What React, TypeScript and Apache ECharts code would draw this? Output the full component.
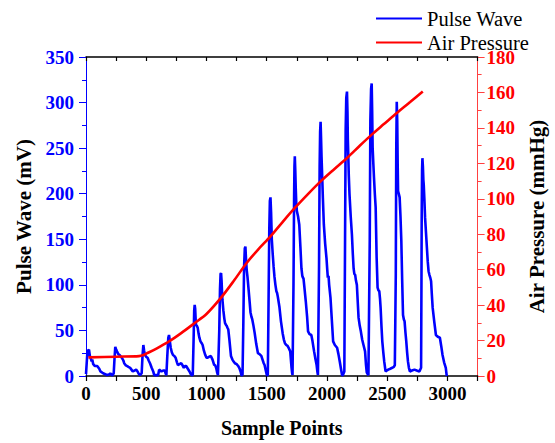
import React, { useEffect, useRef } from "react";
import * as echarts from "echarts";

// ---- Data ----
const pulseSamples = [
  0, 11, 18, 25, 32, 38, 47, 52, 60, 66, 74, 93, 110, 120, 142, 160, 175, 197, 202, 215, 221,
  230, 237, 243, 250, 257, 268, 279, 290, 298, 310, 317, 328, 339, 352, 366, 377, 388, 402, 416, 428, 435, 449,
  462, 469, 476, 482, 489, 500, 511, 520, 531, 545, 558, 566, 572, 599, 607, 626, 640, 654, 660, 667,
  674, 683, 689, 696, 703, 712, 722, 733, 744, 755, 763, 776, 790, 800, 812, 822, 831, 845, 859, 870, 880,
  886, 893, 898, 902, 906, 910, 913, 920, 927, 935, 941, 950, 960, 968, 978, 990, 1000, 1009, 1020, 1036, 1050, 1064, 1072, 1082, 1088, 1095,
  1099, 1106, 1112, 1117, 1121, 1125, 1128, 1132, 1140, 1148, 1154, 1162, 1168, 1174, 1181, 1190, 1203, 1215, 1225, 1236, 1250, 1263, 1275, 1283, 1290,
  1299, 1306, 1312, 1318, 1323, 1328, 1334, 1340, 1350, 1359, 1365, 1373, 1380, 1390, 1400, 1413, 1427, 1440, 1455, 1465, 1475, 1482, 1492, 1501,
  1509, 1515, 1521, 1526, 1531, 1536, 1539, 1542, 1550, 1557, 1564, 1572, 1580, 1586, 1592, 1605, 1618, 1632, 1642, 1651, 1662, 1673, 1685, 1695, 1706, 1711, 1714,
  1718, 1722, 1727, 1730, 1733, 1737, 1741, 1745, 1750, 1760, 1770, 1780, 1788, 1795, 1800, 1805, 1812, 1824, 1835, 1843, 1855, 1870, 1880, 1893, 1905, 1914, 1920, 1925,
  1929, 1934, 1939, 1943, 1947, 1951, 1955, 1958, 1966, 1974, 1985, 1996, 2002, 2007, 2013, 2018, 2029, 2040, 2051, 2065, 2084, 2095, 2106, 2116, 2125,
  2132, 2138, 2144, 2150, 2155, 2160, 2166, 2170, 2173, 2176, 2181, 2187, 2197, 2207, 2214, 2221, 2227, 2234, 2240, 2248, 2255, 2262, 2272, 2281, 2292, 2303, 2316, 2324, 2330, 2338,
  2344, 2349, 2355, 2360, 2366, 2371, 2375, 2379, 2385, 2390, 2397, 2404, 2412, 2420, 2427, 2434, 2440, 2445, 2452, 2459, 2468, 2475, 2486, 2497, 2508, 2525, 2541, 2555, 2563,
  2567, 2571, 2575, 2579, 2583, 2587, 2590, 2596, 2603, 2610, 2617, 2624, 2631, 2638, 2644, 2651, 2658, 2665, 2672, 2680, 2688, 2705, 2726, 2745, 2767, 2781,
  2784, 2786, 2789, 2792, 2796, 2800, 2803, 2808, 2814, 2825, 2836, 2843, 2850, 2857, 2864, 2870, 2877, 2890, 2904, 2920, 2937, 2948, 2959, 2972, 2986, 2994,
];
const pulseMv = [
  2, 25, 28, 29, 22, 20, 16, 18, 13, 12, 11, 11, 8, 5, 3, 2, 1, 2, 3, 1, 1,
  3, 20, 32, 29, 27, 24, 23, 21, 20, 17, 14, 12, 11, 10, 9, 7, 5, 6, 7, 5, 3, 1,
  3, 22, 34, 28, 23, 21, 20, 17, 14, 9, 5, 1, 1, 1, 7, 5, 6, 6, 3, 1,
  20, 42, 45, 38, 31, 26, 23, 22, 20, 15, 12, 13, 14, 12, 9, 11, 11, 8, 5, 2, 1,
  1, 40, 72, 78, 74, 62, 56, 55, 53, 46, 42, 38, 36, 34, 28, 23, 20, 20, 21, 22, 18, 12, 12, 8, 4, 1,
  1, 50, 95, 112, 113, 105, 95, 84, 72, 63, 58, 56, 55, 53, 51, 40, 22, 18, 16, 14, 13, 11, 8, 5, 1,
  1, 60, 120, 140, 142, 128, 116, 109, 94, 80, 70, 65, 62, 55, 47, 35, 25, 24, 22, 18, 14, 12, 6, 1,
  1, 80, 160, 192, 196, 180, 165, 150, 133, 120, 109, 100, 93, 91, 87, 76, 60, 47, 40, 36, 34, 33, 30, 27, 9, 3, 1,
  1, 100, 195, 230, 241, 225, 205, 190, 181, 175, 166, 140, 118, 110, 108, 107, 98, 82, 65, 49, 46, 45, 38, 27, 18, 12, 5, 1,
  1, 120, 230, 268, 279, 260, 240, 228, 195, 166, 145, 129, 117, 108, 110, 100, 86, 62, 38, 34, 31, 24, 16, 8, 1,
  1, 3, 5, 150, 270, 305, 312, 290, 260, 246, 220, 199, 175, 155, 135, 118, 112, 111, 105, 100, 82, 64, 55, 49, 40, 34, 27, 12, 4, 2,
  1, 1, 150, 280, 315, 321, 290, 250, 232, 218, 200, 185, 130, 97, 94, 93, 85, 75, 55, 38, 25, 16, 5, 6, 7, 8, 9, 10, 12,
  60, 111, 250, 301, 280, 230, 203, 200, 196, 175, 148, 105, 67, 62, 60, 48, 38, 26, 16, 9, 5, 6, 7, 6, 5, 9,
  100, 174, 225, 239, 230, 215, 210, 195, 174, 150, 126, 115, 111, 108, 104, 90, 75, 60, 45, 43, 42, 33, 23, 15, 9, 0,
];

const pressureSamples = [
  20, 250, 440, 476, 500, 585, 689, 790, 902, 1000, 1121, 1230, 1330, 1430, 1531, 1633, 1733, 1840, 1947,
  2060, 2166, 2270, 2371, 2475, 2579, 2690, 2795,
];
const pressureMmHg = [
  10.5, 10.9, 11.2, 11.8, 12.6, 15.5, 19.5, 24.2, 29.9, 35.0, 44.2, 54, 63.5, 71.5, 78.8, 87, 94.8, 102.5, 109.8,
  116.7, 123, 129.8, 136.2, 142.3, 148.4, 154.6, 160.6,
];

const seriesNames = ["Pulse Wave", "Air Pressure"];
const xAxisTitle = "Sample Points";
const leftAxisTitle = "Pulse Wave (mV)";
const rightAxisTitle = "Air Pressure (mmHg)";

const FONT = "'Liberation Serif', 'Times New Roman', serif";
const BLUE = "#0000ff";
const RED = "#ff0000";

export default function App() {
  const ref = useRef<HTMLDivElement>(null);

  useEffect(() => {
    if (!ref.current) return;
    const chart = echarts.init(ref.current, undefined, { renderer: "svg" });

    const pulseData = pulseSamples.map((x, i) => [x, pulseMv[i]]);
    const pressureData = pressureSamples.map((x, i) => [x, pressureMmHg[i]]);

    chart.setOption({
      animation: false,
      backgroundColor: "#ffffff",
      textStyle: { fontFamily: FONT },
      grid: { left: 86, right: 73, top: 57, bottom: 67, containLabel: false },
      legend: {
        data: seriesNames,
        orient: "vertical",
        left: 375,
        top: 8,
        padding: 0,
        itemWidth: 46,
        itemHeight: 12,
        itemGap: 3,
        itemStyle: { opacity: 0 },
        textStyle: { fontFamily: FONT, fontSize: 20.5, color: "#000", fontWeight: "normal" },
      },
      xAxis: [
        {
          type: "value",
          position: "bottom",
          min: 0,
          max: 3250,
          interval: 250,
          name: xAxisTitle,
          nameLocation: "middle",
          nameGap: 42,
          nameTextStyle: { fontFamily: FONT, fontSize: 20, fontWeight: "bold", color: "#000" },
          axisLine: { onZero: false, lineStyle: { color: "#000", width: 1.5 } },
          axisTick: { show: true, inside: false, length: 5, lineStyle: { color: "#000", width: 1.2 } },
          axisLabel: {
            margin: 8,
            fontFamily: FONT,
            fontSize: 19,
            fontWeight: "bold",
            color: "#000",
            formatter: (v: number) => (v % 500 === 0 && v <= 3000 ? String(v) : ""),
          },
          splitLine: { show: false },
        },
        {
          type: "value",
          position: "top",
          min: 0,
          max: 3250,
          interval: 250,
          axisLine: { onZero: false, lineStyle: { color: "#000", width: 1.5 } },
          axisTick: { show: true, inside: true, length: 4, lineStyle: { color: "#000", width: 1.2 } },
          axisLabel: { show: false },
          splitLine: { show: false },
        },
      ],
      yAxis: [
        {
          type: "value",
          position: "left",
          min: 0,
          max: 350,
          interval: 50,
          name: leftAxisTitle,
          nameLocation: "middle",
          nameGap: 47,
          nameTextStyle: { fontFamily: FONT, fontSize: 21, fontWeight: "bold", color: "#000" },
          axisLine: { show: true, onZero: false, lineStyle: { color: BLUE, width: 1 } },
          axisTick: { show: true, length: 7, lineStyle: { color: BLUE, width: 1 } },
          minorTick: { show: true, splitNumber: 2, length: 4, lineStyle: { color: BLUE, width: 1 } },
          axisLabel: { margin: 12, fontFamily: FONT, fontSize: 19, fontWeight: "bold", color: BLUE },
          splitLine: { show: false },
          minorSplitLine: { show: false },
        },
        {
          type: "value",
          position: "right",
          min: 0,
          max: 180,
          interval: 20,
          name: rightAxisTitle,
          nameLocation: "middle",
          nameGap: 47,
          nameTextStyle: { fontFamily: FONT, fontSize: 21, fontWeight: "bold", color: "#000" },
          axisLine: { show: true, onZero: false, lineStyle: { color: "#ff4040", width: 1 } },
          axisTick: { show: true, length: 7, lineStyle: { color: "#ff4040", width: 1 } },
          minorTick: { show: true, splitNumber: 2, length: 4, lineStyle: { color: "#ff4040", width: 1 } },
          axisLabel: { margin: 9, fontFamily: FONT, fontSize: 19, fontWeight: "bold", color: RED },
          splitLine: { show: false },
          minorSplitLine: { show: false },
        },
      ],
      series: [
        {
          name: seriesNames[0],
          type: "line",
          xAxisIndex: 0,
          yAxisIndex: 0,
          data: pulseData,
          symbol: "none",
          showSymbol: false,
          lineStyle: { color: BLUE, width: 2.6 },
          itemStyle: { color: BLUE },
        },
        {
          name: seriesNames[1],
          type: "line",
          xAxisIndex: 0,
          yAxisIndex: 1,
          data: pressureData,
          symbol: "none",
          showSymbol: false,
          smooth: 0.3,
          lineStyle: { color: RED, width: 2.6 },
          itemStyle: { color: RED },
        },
      ],
    });

    return () => chart.dispose();
  }, []);

  return (
    <div
      ref={ref}
      style={{ position: "fixed", left: 0, top: 0, width: 555, height: 443, background: "#fff" }}
    />
  );
}
